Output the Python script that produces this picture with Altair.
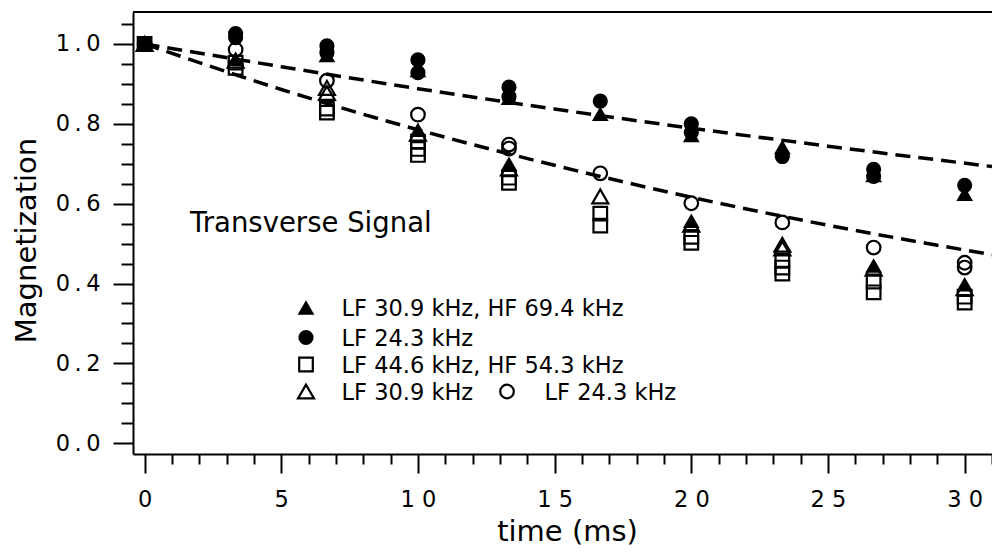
import altair as alt
import pandas as pd

# ---------------- data ----------------
times = [0, 3.33, 6.67, 10, 13.33, 16.67, 20, 23.33, 26.67, 30]

# filled triangle: LF 30.9 kHz, HF 69.4 kHz
filled_triangle_a = [1.00, 0.962, 0.972, 0.935, 0.865, 0.825, 0.772, 0.742, 0.672, 0.625]
filled_triangle_b = [None, None, None, 0.785, 0.700, None, 0.557, None, 0.445, 0.398]
# filled circle: LF 24.3 kHz
filled_circle_a = [1.00, 1.026, 0.995, 0.960, 0.892, 0.857, 0.800, 0.718, 0.686, 0.646]
filled_circle_b = [None, 1.016, 0.978, 0.928, 0.868, None, 0.778, None, 0.668, None]
# open square: LF 44.6 kHz, HF 54.3 kHz
open_square_a = [1.00, 0.953, 0.838, 0.755, 0.665, 0.575, 0.517, 0.457, 0.405, 0.367]
open_square_b = [None, 0.940, 0.828, 0.737, 0.652, 0.545, 0.502, 0.440, 0.378, 0.352]
open_square_c = [None, None, None, 0.722, None, None, None, 0.425, None, None]
# open triangle: LF 30.9 kHz
open_triangle_a = [1.00, 0.958, 0.890, 0.775, 0.688, 0.618, 0.547, 0.497, 0.437, 0.388]
open_triangle_b = [None, None, 0.877, None, None, None, None, 0.488, None, None]
# open circle: LF 24.3 kHz
open_circle_a = [1.00, 0.986, 0.908, 0.823, 0.748, 0.676, 0.601, 0.553, 0.490, 0.452]
open_circle_b = [None, None, None, None, 0.738, None, None, None, None, 0.440]

# dashed fitted curves (read at these times)
fit_times = [0, 5, 10, 15, 20, 25, 31]
fit_slow = [1.000, 0.943, 0.888, 0.837, 0.789, 0.744, 0.693]
fit_fast = [1.000, 0.886, 0.785, 0.696, 0.616, 0.546, 0.472]

x_ticks = list(range(0, 32))
y_ticks = [round(i * 0.05, 2) for i in range(22)]

legend_labels = ["LF 30.9 kHz, HF 69.4 kHz", "LF 24.3 kHz",
                 "LF 44.6 kHz, HF 54.3 kHz", "LF 30.9 kHz", "LF 24.3 kHz"]
annotation = "Transverse Signal"
x_title = "time (ms)"
y_title = "Magnetization"

# ---------------- chart ----------------
W, H = 859, 442
FONT = "DejaVu Sans"

x_enc = alt.X(
    "t:Q",
    scale=alt.Scale(domain=[-0.424, 31.0], nice=False, zero=False),
    axis=alt.Axis(
        values=x_ticks, format="d",
        labelExpr="datum.value % 5 == 0 ? join(split(datum.label, ''), ' ') : ''",
        tickSize={"condition": {"test": "datum.value % 5 == 0", "value": 19}, "value": 10},
        tickWidth=2, tickColor="black", domainWidth=2, domainColor="black",
        labelFont=FONT, labelFontSize=22.5, labelColor="black", labelPadding=15,
        labelOverlap=False, labelFlush=False, grid=False,
        title=x_title, titleFont=FONT, titleFontSize=29, titleFontWeight="normal",
        titleColor="black", titleX=434, titleY=86, titleBaseline="alphabetic",
        titleAlign="center",
    ),
)
y_enc = alt.Y(
    "m:Q",
    scale=alt.Scale(domain=[-0.027, 1.08], nice=False, zero=False),
    axis=alt.Axis(
        values=y_ticks, format=".1f",
        labelExpr="round(datum.value * 100) % 20 == 0 ? join(split(datum.label, ''), '\u2009') : ''",
        tickSize={"condition": {"test": "round(datum.value * 100) % 20 == 0", "value": 20}, "value": 12},
        tickWidth=2, tickColor="black", domainWidth=2, domainColor="black",
        labelFont=FONT, labelFontSize=22.5, labelColor="black", labelPadding=13,
        labelOverlap=False, labelFlush=False, grid=False,
        title=y_title, titleFont=FONT, titleFontSize=29, titleFontWeight="normal",
        titleColor="black", titleX=-98, titleY=228, titleAngle=270,
        titleBaseline="alphabetic", titleAlign="center",
    ),
)


def frame(series_list):
    rows = [{"t": t, "m": v} for s in series_list for t, v in zip(times, s) if v is not None]
    return pd.DataFrame(rows)


def point_mark(shape, filled, size):
    if filled:
        return dict(shape=shape, filled=True, size=size, color="black", opacity=1)
    return dict(shape=shape, filled=False, size=size, color="black", strokeWidth=2.2, opacity=1)


STYLE = {
    "ftri": point_mark("triangle-up", True, 280),
    "fcirc": point_mark("circle", True, 230),
    "osq": point_mark("square", False, 185),
    "otri": point_mark("triangle-up", False, 255),
    "ocirc": point_mark("circle", False, 185),
}

layers = []

fits = pd.DataFrame({"t": fit_times * 2, "m": fit_slow + fit_fast,
                     "curve": ["slow"] * len(fit_times) + ["fast"] * len(fit_times)})
layers.append(
    alt.Chart(fits).mark_line(color="black", strokeWidth=3.5, strokeDash=[15, 8],
                              clip=True, interpolate="monotone")
    .encode(x=x_enc, y=y_enc, detail="curve:N")
)

for key, series in [("osq", [open_square_a, open_square_b, open_square_c]),
                    ("otri", [open_triangle_a, open_triangle_b]),
                    ("ocirc", [open_circle_a, open_circle_b]),
                    ("ftri", [filled_triangle_a, filled_triangle_b]),
                    ("fcirc", [filled_circle_a, filled_circle_b])]:
    layers.append(alt.Chart(frame(series)).mark_point(clip=True, **STYLE[key])
                  .encode(x=x_enc, y=y_enc))

one = pd.DataFrame({"k": [0]})
# top frame line
layers.append(alt.Chart(one).mark_rule(color="black", strokeWidth=2)
              .encode(x=alt.value(0), x2=alt.value(W), y=alt.value(0)))

# annotation
layers.append(alt.Chart(pd.DataFrame({"txt": [annotation]}))
              .mark_text(font=FONT, fontSize=27.5, align="left", baseline="alphabetic", color="black")
              .encode(text="txt:N", x=alt.value(57), y=alt.value(220)))

# legend
legend_items = [
    ("ftri", 173, 295.5, legend_labels[0], 208.5, 303.7),
    ("fcirc", 173, 325.5, legend_labels[1], 208.5, 333.7),
    ("osq", 173, 352.5, legend_labels[2], 208.5, 360.7),
    ("otri", 173, 379.5, legend_labels[3], 208.5, 387.7),
    ("ocirc", 374, 379.5, legend_labels[4], 411.5, 387.7),
]
for key, sx, sy, label, tx, ty in legend_items:
    layers.append(alt.Chart(one).mark_point(**STYLE[key])
                  .encode(x=alt.value(sx), y=alt.value(sy)))
    layers.append(alt.Chart(pd.DataFrame({"txt": [label]}))
                  .mark_text(font=FONT, fontSize=22.5, align="left", baseline="alphabetic", color="black")
                  .encode(text="txt:N", x=alt.value(tx), y=alt.value(ty)))

chart = (
    alt.layer(*layers)
    .properties(width=W, height=H, autosize=alt.AutoSizeParams(type="none"),
                padding={"left": 133, "top": 12, "right": 0, "bottom": 98},
                background="white")
    .configure_view(stroke=None)
)

chart.save("out.html", embed_options={"renderer": "svg", "actions": False})
